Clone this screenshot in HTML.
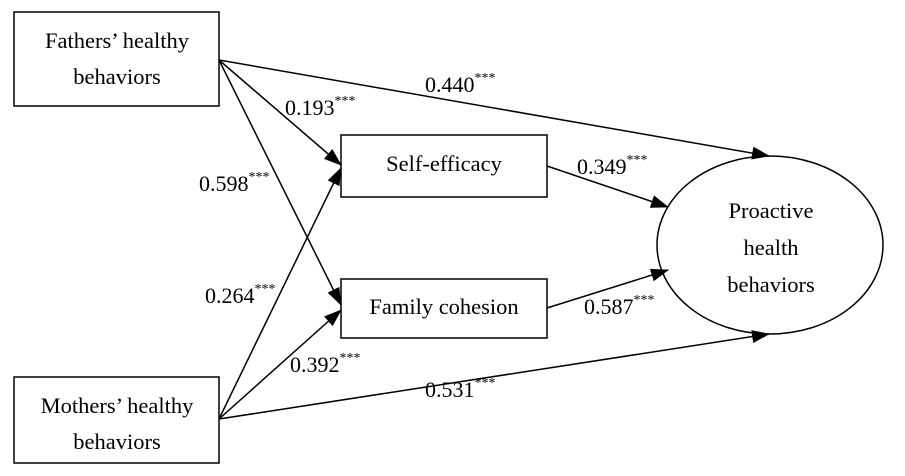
<!DOCTYPE html>
<html><head><meta charset="utf-8"><style>
html,body{margin:0;padding:0;background:#fff;}
svg{display:block;}
text{font-family:"Liberation Serif",serif;font-size:22px;fill:#000;}
.n{font-size:22.5px;}
.s{font-size:14px;}
</style></head><body>
<svg width="905" height="476" viewBox="0 0 905 476" xmlns="http://www.w3.org/2000/svg">
<defs><marker id="a" markerWidth="18" markerHeight="13" refX="17" refY="6.5" orient="auto" markerUnits="userSpaceOnUse"><path d="M0,0 L18,6.5 L0,13 z" fill="#000"/></marker></defs>
<g fill="none" stroke="#000" stroke-width="1.5">
<rect x="14" y="12" width="205" height="94"/>
<rect x="14" y="377" width="205" height="86"/>
<rect x="341" y="135" width="206" height="62"/>
<rect x="341" y="279" width="206" height="59"/>
<ellipse cx="770" cy="245" rx="113" ry="89"/>
<line x1="219" y1="60" x2="341" y2="165" marker-end="url(#a)"/>
<line x1="219" y1="60" x2="341" y2="305" marker-end="url(#a)"/>
<line x1="219" y1="60" x2="769" y2="156" marker-end="url(#a)"/>
<line x1="219" y1="419" x2="341" y2="168" marker-end="url(#a)"/>
<line x1="219" y1="419" x2="341" y2="310" marker-end="url(#a)"/>
<line x1="219" y1="419" x2="769" y2="334" marker-end="url(#a)"/>
<line x1="547" y1="166" x2="668" y2="207" marker-end="url(#a)"/>
<line x1="547" y1="308" x2="668" y2="270" marker-end="url(#a)"/>
</g>
<g text-anchor="middle">
<text class="n" x="117" y="48">Fathers’ healthy</text>
<text class="n" x="117" y="84">behaviors</text>
<text class="n" x="117" y="413">Mothers’ healthy</text>
<text class="n" x="117" y="449">behaviors</text>
<text class="n" x="444" y="171">Self-efficacy</text>
<text class="n" x="444" y="314">Family cohesion</text>
<text class="n" x="771" y="218">Proactive</text>
<text class="n" x="771" y="255">health</text>
<text class="n" x="771" y="292">behaviors</text>
</g>
<text x="425" y="92">0.440<tspan class="s" dy="-10">***</tspan></text>
<text x="285" y="115">0.193<tspan class="s" dy="-10">***</tspan></text>
<text x="199" y="191">0.598<tspan class="s" dy="-10">***</tspan></text>
<text x="205" y="303">0.264<tspan class="s" dy="-10">***</tspan></text>
<text x="290" y="372">0.392<tspan class="s" dy="-10">***</tspan></text>
<text x="425" y="397">0.531<tspan class="s" dy="-10">***</tspan></text>
<text x="577" y="174">0.349<tspan class="s" dy="-10">***</tspan></text>
<text x="584" y="314">0.587<tspan class="s" dy="-10">***</tspan></text>
</svg>
</body></html>
